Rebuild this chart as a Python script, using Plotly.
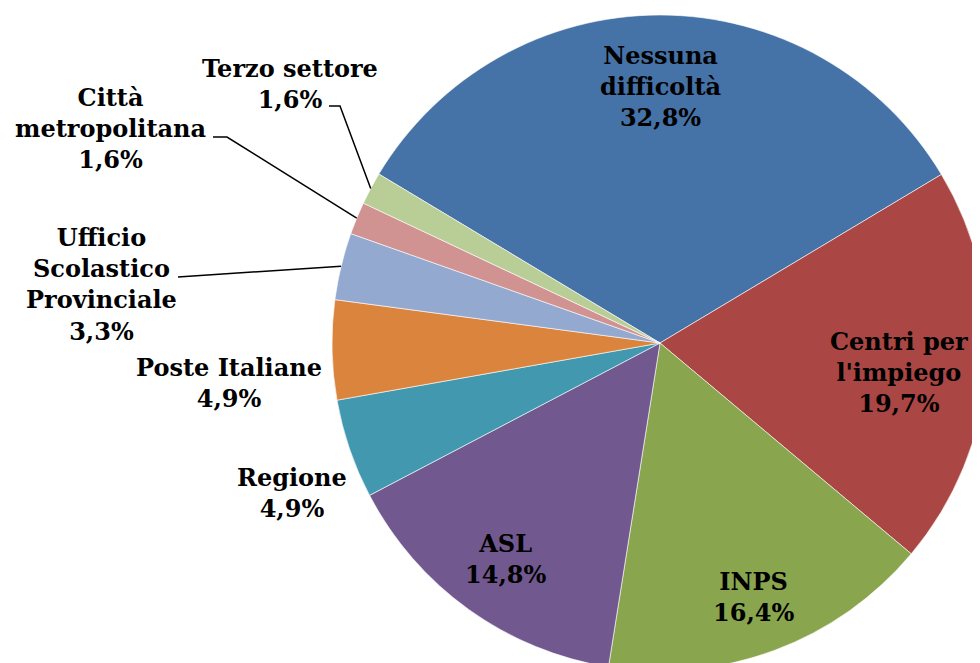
import math
import plotly.graph_objects as go

# dati
labels = ["Nessuna difficoltà", "Centri per l'impiego", "INPS", "ASL", "Regione",
          "Poste Italiane", "Ufficio Scolastico Provinciale", "Città metropolitana",
          "Terzo settore"]
label_text = ["Nessuna<br>difficoltà", "Centri per<br>l'impiego", "INPS", "ASL", "Regione",
              "Poste Italiane", "Ufficio<br>Scolastico<br>Provinciale", "Città<br>metropolitana",
              "Terzo settore"]
percent = [32.8, 19.7, 16.4, 14.8, 4.9, 4.9, 3.3, 1.6, 1.6]
colors = ["#4572A7", "#AA4643", "#89A54E", "#71588F", "#4198AF",
          "#DB843D", "#93A9CF", "#D19392", "#B9CD96"]

W, H = 980, 663
OFF = 8  # margine del body della pagina html
ROT = -59
# centro e raggio della torta (pixel della pagina)
cx, cy, R = 660, 343, 328
# posizione del centro delle etichette e gomiti delle linee guida (pixel della pagina)
label_pos = [(660, 86), (899, 372), (753, 597), (505, 559), (292, 493),
             (229, 383), (101, 284), (110, 128), (290, 84)]
leader = {6: [(178, 277)], 7: [(213, 137), (227, 137)], 8: [(329, 106), (340, 106)]}

fig = go.Figure()
fig.add_trace(go.Pie(
    labels=labels, values=percent, sort=False, direction="clockwise", rotation=ROT,
    marker=dict(colors=colors, line=dict(color="white", width=0.6)),
    textinfo="none", hoverinfo="label+percent",
    domain=dict(x=[(cx - R - OFF) / W, (cx + R - OFF) / W],
                y=[1 - (cy + R - OFF) / H, 1 - (cy - R - OFF) / H]),
    showlegend=False,
))

total = sum(percent)
acc = 0
font = dict(family="DejaVu Serif", size=24, color="black")
for i, p in enumerate(percent):
    mid = math.radians(ROT + (acc + p / 2) / total * 360)
    acc += p
    txt = "<b>" + label_text[i] + "<br>" + f"{p:.1f}".replace(".", ",") + "%</b>"
    x, y = label_pos[i]
    fig.add_annotation(x=x, y=y, xref="x", yref="y", text=txt, showarrow=False,
                       font=font, align="center")
    if i in leader:
        pts = leader[i] + [(cx + R * math.sin(mid), cy - R * math.cos(mid))]
        path = "M " + " L ".join(f"{a:.1f},{b:.1f}" for a, b in pts)
        fig.add_shape(type="path", path=path, xref="x", yref="y",
                      line=dict(color="black", width=1.5))

fig.update_layout(
    width=W, height=H,
    margin=dict(l=0, r=0, t=0, b=0),
    paper_bgcolor="white", plot_bgcolor="rgba(0,0,0,0)",
    xaxis=dict(range=[OFF, W + OFF], visible=False, fixedrange=True),
    yaxis=dict(range=[H + OFF, OFF], visible=False, fixedrange=True),
)

fig.write_html("out.html")
